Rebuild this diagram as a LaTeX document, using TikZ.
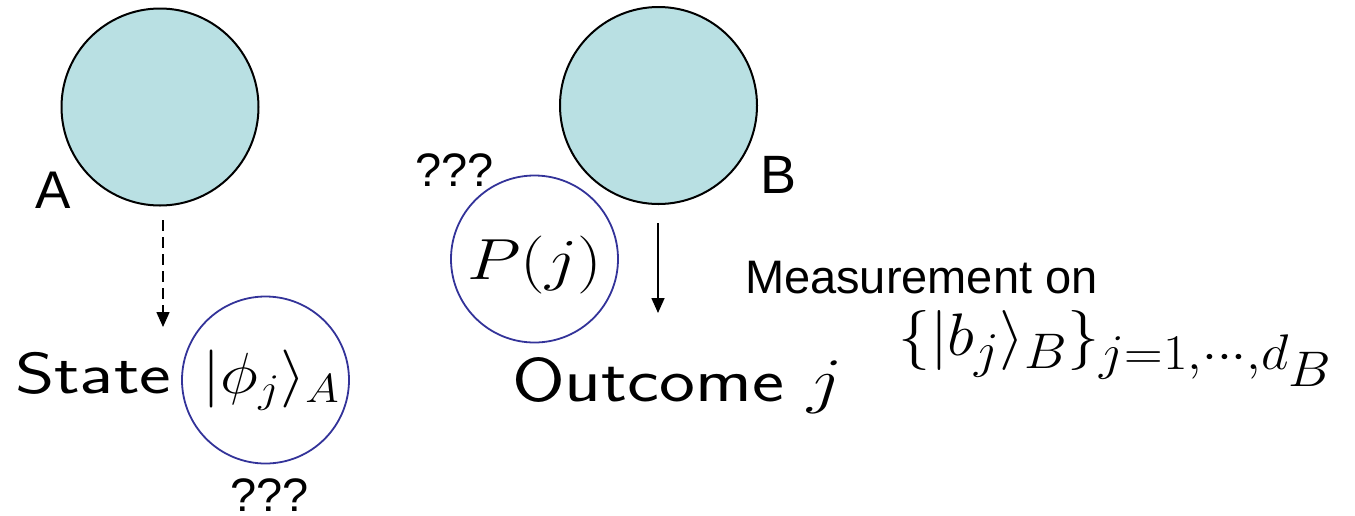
\RequirePackage{fix-cm}
\documentclass[tikz,border=0pt]{standalone}
\usepackage{fontspec}
\usepackage{graphicx}
\usetikzlibrary{arrows.meta}
\newfontfamily\arialfont{Liberation Sans}
\definecolor{tealfill}{RGB}{185,224,227}
\definecolor{ringblue}{RGB}{51,51,153}
\DeclareMathSizes{60}{60}{50}{50}
\tikzset{
  system/.style={circle, draw=black, fill=tealfill, line width=2pt, inner sep=0pt, minimum size=197pt},
  ring/.style={circle, draw=ringblue, line width=1.8pt, inner sep=0pt, minimum size=167pt},
  plain/.style={inner sep=0pt, outer sep=0pt},
  conn/.style={line width=1.6pt, -{Triangle[length=15pt,width=13pt]}},
}
\newcommand{\fs}[1]{\fontsize{#1}{#1}\selectfont}
\begin{document}
\begin{tikzpicture}[x=1pt,y=-1pt]
\useasboundingbox (0,0) rectangle (1355,515);
% systems
\node[system] (A) at (160,107) {};
\node[system] (B) at (658.5,105.5) {};
% rings
\node[ring] (phiring) at (265.5,380) {};
\node[ring] (Pring) at (534.5,259) {};
% labels
\node[plain, anchor=base west, font=\arialfont\fs{53}] (Alab) at (35,208) {A};
\node[plain, anchor=base west, font=\arialfont\fs{54}] (Blab) at (760,193) {B};
\node[plain, anchor=base west, font=\arialfont\fs{47}] (qtop) at (415,186) {???};
\node[plain, anchor=base west, font=\arialfont\fs{47}] (qbot) at (230,511) {???};
\node[plain, anchor=base west, font=\arialfont\fs{47}] (meas) at (745,293) {Measurement on};
\node[plain, anchor=base west, font=\sffamily\fs{58}] (state) at (15,393) {\scalebox{1.3}[1]{State}};
\node[plain, anchor=base, font=\fs{58}] (phi) at (271,393.5) {\scalebox{1.12}[1]{$|\phi_j\rangle_A$}};
\node[plain, anchor=base, font=\fs{58}] (Pj) at (534.5,279) {\scalebox{1.2}[1]{$P(j)$}};
\node[plain, anchor=base west, font=\sffamily\fs{62}] (outc) at (512,401) {\scalebox{1.23}[1]{Outcome $j$}};
\node[plain, anchor=base west, font=\fs{60}] (basis) at (898,355) {\scalebox{1.07}[1]{$\{|b_j\rangle_B\}_{j=1,\cdots,d_B}$}};
% connectors
\coordinate (As) at (163,220);
\coordinate (At) at (163,327);
\coordinate (Bs) at (658,223);
\coordinate (Bt) at (658,313);
\draw[conn, dash pattern=on 11pt off 6pt] (As) -- (At);
\draw[conn] (Bs) -- (Bt);
\end{tikzpicture}
\end{document}
